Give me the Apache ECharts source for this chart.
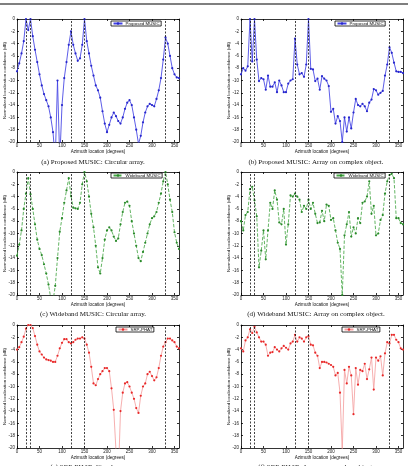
<!DOCTYPE html>
<html><head><meta charset="utf-8">
<script src="https://cdn.jsdelivr.net/npm/echarts@6/dist/echarts.min.js"></script>
<style>html,body{margin:0;padding:0;background:#fff}#c{width:408px;height:466px}</style>
</head><body><div id="c"></div>
<script>
const angles = [0,5,10,15,20,25,30,35,40,45,50,55,60,65,70,75,80,85,90,95,100,105,110,115,120,125,130,135,140,145,150,155,160,165,170,175,180,185,190,195,200,205,210,215,220,225,230,235,240,245,250,255,260,265,270,275,280,285,290,295,300,305,310,315,320,325,330,335,340,345,350,355,360];

const musicCircular = [-8.5,-7.2,-5.6,-3.6,0,-1.8,0,-2.8,-5.0,-7.0,-9.0,-10.8,-12.2,-13.2,-14.2,-16.0,-18.4,-23,-10,-23,-14,-9.6,-7.0,-4.2,-2.0,-4.2,-5.6,-6.8,-6.4,-4.2,0,-3.6,-5.6,-7.6,-9.2,-10.8,-11.6,-12.8,-15.0,-17.0,-18.4,-17.2,-16.0,-15.2,-15.8,-16.6,-17.0,-16.0,-14.6,-13.6,-13.2,-14.0,-16.0,-18.0,-20.3,-19.0,-16.8,-15.2,-14.2,-13.8,-14.0,-14.2,-13.0,-11.6,-9.6,-6.6,-3.0,-4.0,-6.0,-8.0,-9.0,-9.5,-9.6];

const musicComplex = [-9.0,-8.0,-8.4,-7.7,0,-6.9,0,-6.6,-10.1,-9.6,-9.8,-11.5,-9.2,-11.0,-11.0,-10.3,-11.9,-10.0,-10.8,-11.9,-11.9,-10.5,-10.0,-9.8,-3.2,-7.4,-9.0,-8.8,-9.4,-7.4,0,-8.1,-8.2,-10.1,-9.7,-11.5,-9.3,-9.7,-10.0,-10.9,-15.1,-14.6,-17.0,-15.8,-16.6,-20.0,-16.0,-18.3,-16.0,-17.8,-15.2,-13.0,-14.0,-14.2,-13.8,-14.2,-15.0,-13.6,-13.1,-11.4,-11.6,-12.3,-12.0,-11.7,-9.2,-7.4,-4.6,-5.5,-7.1,-8.5,-8.6,-8.6,-8.8];

const widebandCircular = [-13.6,-11.8,-9.5,-6.0,-3.5,-1.0,-3.6,-6.0,-8.5,-11.0,-12.5,-13.5,-15.0,-16.5,-18.3,-20.5,-21.0,-18.5,-14.0,-9.7,-7.5,-5.0,-3.0,-1.0,-3.9,-5.8,-5.9,-6.0,-5.0,-2.0,0,-1.5,-4.0,-6.8,-9.0,-12.0,-15.5,-16.5,-14.0,-11.0,-9.5,-9.0,-9.5,-10.5,-11.2,-10.8,-8.5,-6.5,-5.0,-4.8,-5.5,-8.0,-10.0,-12.0,-14.0,-14.5,-13.0,-11.5,-10.0,-8.5,-7.5,-7.2,-6.5,-5.0,-3.5,-1.5,0,-2.0,-4.5,-6.5,-9.8,-11.5,-12.5];

const widebandComplex = [-8.0,-9.5,-7.0,-6.5,-2.8,-2.4,-4.6,-7.2,-15.5,-12.8,-9.5,-14.2,-9.5,-5.0,-6.0,-3.0,-4.5,-8.2,-8.5,-6.0,-11.8,-8.5,-3.8,-4.0,-3.5,-4.0,-4.5,-6.5,-5.5,-6.0,-4.5,-6.0,-5.0,-6.8,-8.3,-8.2,-6.3,-8.0,-5.3,-5.5,-7.8,-7.5,-9.5,-11.5,-12.5,-20.0,-10.3,-8.5,-6.5,-10.5,-9.0,-10.0,-7.5,-8.3,-5.0,-4.8,-4.0,-1.5,-6.8,-5.5,-10.3,-10.0,-7.8,-7.0,-3.5,-1.5,-0.5,-0.3,-1.0,-7.5,-7.5,-8.3,-8.5];

const srpCircular = [-4.0,-3.6,-2.8,-1.9,-0.6,0,0,-0.5,-1.8,-3.2,-4.3,-4.8,-5.3,-5.6,-5.7,-5.8,-6.0,-6.0,-5.0,-3.8,-2.9,-2.3,-2.3,-2.8,-3.0,-2.8,-2.4,-2.2,-2.2,-2.0,-2.2,-3.2,-4.5,-6.8,-9.5,-9.8,-8.8,-8.0,-7.5,-7.0,-7.0,-7.5,-10.3,-13.8,-20.5,-25.0,-14.0,-11.0,-9.5,-9.3,-10.0,-11.0,-12.0,-13.5,-14.3,-11.5,-10.0,-9.5,-8.0,-7.6,-8.3,-9.0,-8.5,-7.0,-5.0,-3.5,-2.8,-2.2,-2.2,-2.5,-2.8,-3.5,-3.8];

const srpComplex = [-3.8,-4.3,-2.5,-2.0,-0.7,-1.3,-0.3,-1.2,-2.0,-2.7,-2.7,-3.2,-5.0,-4.5,-4.4,-3.6,-4.0,-4.3,-3.8,-3.4,-3.7,-4.0,-3.0,-2.7,-1.6,-2.7,-2.0,-2.2,-2.7,-2.0,-1.8,-3.2,-3.3,-4.5,-5.0,-7.0,-6.0,-6.0,-6.1,-6.3,-6.5,-6.8,-8.2,-7.8,-11.0,-20.5,-7.3,-9.5,-6.8,-8.2,-14.5,-7.0,-9.7,-7.3,-7.5,-6.3,-8.8,-7.2,-5.3,-10.5,-5.3,-5.8,-5.1,-8.2,-4.6,-2.8,-3.0,-1.6,-1.6,-2.4,-2.8,-3.8,-4.0];

const sourceAngles = [20, 30, 120, 150, 330];
const seriesNames = ['Proposed MUSIC', 'Proposed MUSIC', 'Wideband MUSIC', 'Wideband MUSIC', 'SRP-PHAT', 'SRP-PHAT'];
const captions = [
  '(a) Proposed MUSIC: Circular array.',
  '(b) Proposed MUSIC: Array on complex object.',
  '(c) Wideband MUSIC: Circular array.',
  '(d) Wideband MUSIC: Array on complex object.',
  '(e) SRP-PHAT: Circular array.',
  '(f) SRP-PHAT: Array on complex object.'
];
const xTitle = 'Azimuth location (degrees)';
const yTitle = 'Normalized localization confidence (dB)';
const panelData = [musicCircular, musicComplex, widebandCircular, widebandComplex, srpCircular, srpComplex];

// layout
const colLeft = [17, 241], rowTop = [19, 172, 325], gw = 162, gh = 123;
const capX = [93, 316], capY = [162, 314, 467.5];
const legPos = [[111, 21], [335, 21], [111, 173], [334, 173], [116, 327], [342, 327]];
const styles = [
  {line: '#4040e4', item: '#2626cc', type: 'solid'},
  {line: '#4040e4', item: '#2626cc', type: 'solid'},
  {line: '#48a848', item: '#2a8a2a', type: 'dashed'},
  {line: '#48a848', item: '#2a8a2a', type: 'dashed'},
  {line: '#f4a0a0', item: '#e82828', type: 'solid'},
  {line: '#f4a0a0', item: '#e82828', type: 'solid'}
];

const grid = [], xAxis = [], yAxis = [], series = [], legend = [], graphic = [];
const axisLineStyle = {color: '#000', width: 0.8};
for (let i = 0; i < 6; i++) {
  const r = Math.floor(i / 2), c = i % 2;
  grid.push({left: colLeft[c], top: rowTop[r], width: gw, height: gh, show: false, containLabel: false, outerBoundsMode: 'none'});
  xAxis.push({
    type: 'value', gridIndex: i, min: 0, max: 360, interval: 50, position: 'bottom',
    axisLine: {show: true, onZero: false, lineStyle: axisLineStyle},
    axisTick: {show: true, inside: true, length: 2, lineStyle: axisLineStyle},
    axisLabel: {fontSize: 4.5, margin: 1.5, color: '#222', showMaxLabel: false, fontFamily: 'Liberation Sans'},
    splitLine: {show: false},
    name: xTitle, nameLocation: 'middle', nameGap: 7, nameMoveOverlap: false,
    nameTextStyle: {fontSize: 4.6, color: '#111', fontFamily: 'Liberation Sans'}
  });
  xAxis.push({
    type: 'value', gridIndex: i, min: 0, max: 360, interval: 50, position: 'top',
    axisLine: {show: true, onZero: false, lineStyle: axisLineStyle},
    axisTick: {show: true, inside: true, length: 2, lineStyle: axisLineStyle},
    axisLabel: {show: false}, splitLine: {show: false}
  });
  yAxis.push({
    type: 'value', gridIndex: i, min: -20, max: 0, interval: 2, position: 'left',
    axisLine: {show: true, onZero: false, lineStyle: axisLineStyle},
    axisTick: {show: true, inside: true, length: 2, lineStyle: axisLineStyle},
    axisLabel: {fontSize: 4.5, margin: 2, color: '#222', fontFamily: 'Liberation Sans'},
    splitLine: {show: false},
    name: yTitle, nameLocation: 'middle', nameGap: 10, nameMoveOverlap: false,
    nameTextStyle: {fontSize: 4.4, color: '#111', fontFamily: 'Liberation Sans'}
  });
  yAxis.push({
    type: 'value', gridIndex: i, min: -20, max: 0, interval: 2, position: 'right',
    axisLine: {show: true, onZero: false, lineStyle: axisLineStyle},
    axisTick: {show: true, inside: true, length: 2, lineStyle: axisLineStyle},
    axisLabel: {show: false}, splitLine: {show: false}
  });
  const st = styles[i];
  series.push({
    type: 'line', name: seriesNames[i], xAxisIndex: 2 * i, yAxisIndex: 2 * i,
    data: angles.map((a, k) => [a, panelData[i][k]]),
    clip: true, symbol: 'circle', symbolSize: 2.2, showSymbol: true,
    lineStyle: {color: st.line, width: 0.85, type: st.type},
    itemStyle: {color: st.item},
    animation: false, silent: true, z: 3,
    markLine: {
      silent: true, symbol: 'none', animation: false,
      label: {show: false},
      lineStyle: {type: [2, 1.5], color: '#111', width: 0.8},
      data: sourceAngles.map(a => ({xAxis: a}))
    }
  });
  legend.push({
    left: legPos[i][0], top: legPos[i][1],
    data: [seriesNames[i]], selectedMode: false,
    orient: 'horizontal', itemWidth: 9, itemHeight: 3, itemGap: 2,
    padding: [0.5, 1.5, 0.5, 1.5],
    backgroundColor: '#fff', borderColor: '#000', borderWidth: 0.8,
    textStyle: {fontSize: 4.4, color: '#111', fontFamily: 'Liberation Sans', padding: [0, 0, 0, -2]}
  });
  graphic.push({
    type: 'text', x: capX[c], y: capY[r], silent: true,
    style: {text: captions[i], font: '7px "Liberation Serif"', fill: '#111', textAlign: 'center', textVerticalAlign: 'middle', x: 0, y: 0}
  });
}
graphic.push({type: 'line', silent: true, shape: {x1: 0, y1: 4, x2: 408, y2: 4}, style: {stroke: '#555', lineWidth: 1.4}});

const chart = echarts.init(document.getElementById('c'), null, {renderer: 'canvas'});
chart.setOption({
  animation: false, backgroundColor: '#fff',
  grid, xAxis, yAxis, series, legend, graphic
});
</script></body></html>
